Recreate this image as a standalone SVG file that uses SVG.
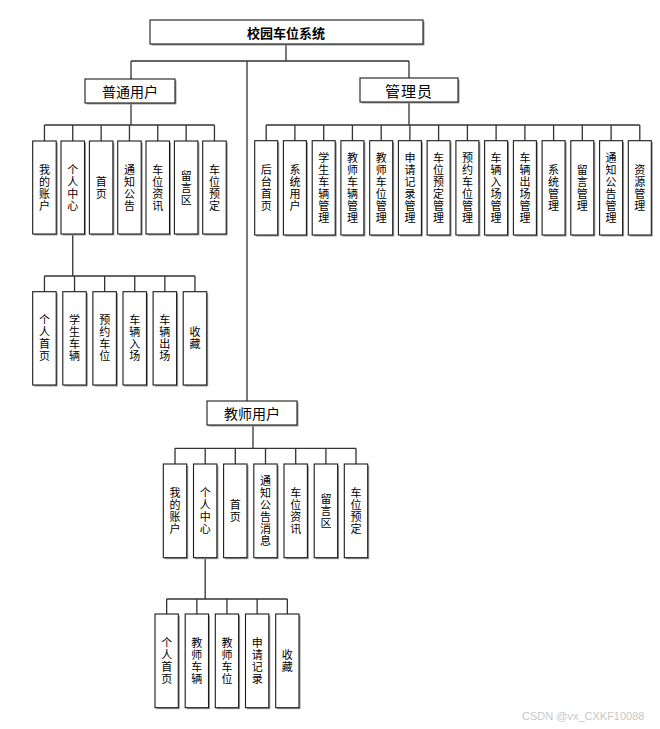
<svg xmlns="http://www.w3.org/2000/svg" width="660" height="729" viewBox="0 0 660 729">
<style>
.sh{fill:#9a9a9a}
.bx{fill:#fff;stroke:#1a1a1a;stroke-width:1.1}
.ln{fill:none;stroke:#333;stroke-width:1.3}
.t{font-family:"Noto Sans CJK SC","Microsoft YaHei",sans-serif;font-size:11px;fill:#000;text-anchor:middle;writing-mode:vertical-rl;letter-spacing:1px}
.h{font-family:"Noto Sans CJK SC",sans-serif;font-size:14px;fill:#000;text-anchor:middle;dominant-baseline:central}
.wm{font-family:"Liberation Sans",sans-serif;font-size:11px;fill:#c8c8c8}
</style>
<rect width="660" height="729" fill="#fff"/>
<g id="connectors">
<path class="ln" d="M286 44V61M131 61H409M131 61V79M409 61V78M247 61V401"/>
<path class="ln" d="M131 103V125M44.45 125H214.45M44.45 125V141M72.75 125V141M101.15 125V141M129.45 125V141M157.75 125V141M186.15 125V141M214.45 125V141"/>
<path class="ln" d="M72.75 234V276M44.45 276H194.95M44.45 276V291.7M74.55 276V291.7M104.65 276V291.7M134.75 276V291.7M164.85 276V291.7M194.95 276V291.7"/>
<path class="ln" d="M409 102V125M266.2 125H639.8M266.2 125V140.7M294.9 125V140.7M323.7 125V140.7M352.4 125V140.7M381.2 125V140.7M409.9 125V140.7M438.6 125V140.7M467.4 125V140.7M496.1 125V140.7M524.9 125V140.7M553.6 125V140.7M582.3 125V140.7M611.1 125V140.7M639.8 125V140.7"/>
<path class="ln" d="M253 425V448.3M175 448.3H356M175 448.3V464M205.2 448.3V464M235.3 448.3V464M265.5 448.3V464M295.7 448.3V464M325.9 448.3V464M356 448.3V464"/>
<path class="ln" d="M205.2 557.7V599M166.65 599H287.35M166.65 599V614M196.85 599V614M226.95 599V614M257.15 599V614M287.35 599V614"/>
</g>
<g id="root"><rect class="sh" x="151.5" y="21.5" width="273" height="24"/><rect class="bx" x="150" y="20" width="273" height="24"/><text class="h" x="286" y="32" style="font-size:13px;font-weight:bold">校园车位系统</text></g>
<g id="putong"><rect class="sh" x="86.5" y="80.5" width="90" height="24"/><rect class="bx" x="85" y="79" width="90" height="24"/><text class="h" x="130" y="91">普通用户</text></g>
<g id="guanli"><rect class="sh" x="361.5" y="79.5" width="98" height="24"/><rect class="bx" x="360" y="78" width="98" height="24"/><text class="h" x="409" y="90" style="font-size:15px;letter-spacing:1px">管理员</text></g>
<g id="jiaoshi"><rect class="sh" x="208.5" y="402.5" width="90" height="24"/><rect class="bx" x="207" y="401" width="90" height="24"/><text class="h" x="252" y="413">教师用户</text></g>

<g id="p1"><rect class="sh" x="34.2" y="142.5" width="23.5" height="93"/><rect class="bx" x="32.7" y="141" width="23.5" height="93"/><text class="t" x="44.45" y="188">我的账户</text></g>
<g id="p2"><rect class="sh" x="62.5" y="142.5" width="23.5" height="93"/><rect class="bx" x="61" y="141" width="23.5" height="93"/><text class="t" x="72.75" y="188">个人中心</text></g>
<g id="p3"><rect class="sh" x="90.9" y="142.5" width="23.5" height="93"/><rect class="bx" x="89.4" y="141" width="23.5" height="93"/><text class="t" x="101.15" y="188">首页</text></g>
<g id="p4"><rect class="sh" x="119.2" y="142.5" width="23.5" height="93"/><rect class="bx" x="117.7" y="141" width="23.5" height="93"/><text class="t" x="129.45" y="188">通知公告</text></g>
<g id="p5"><rect class="sh" x="147.5" y="142.5" width="23.5" height="93"/><rect class="bx" x="146" y="141" width="23.5" height="93"/><text class="t" x="157.75" y="188">车位资讯</text></g>
<g id="p6"><rect class="sh" x="175.9" y="142.5" width="23.5" height="93"/><rect class="bx" x="174.4" y="141" width="23.5" height="93"/><text class="t" x="186.15" y="188">留言区</text></g>
<g id="p7"><rect class="sh" x="204.2" y="142.5" width="23.5" height="93"/><rect class="bx" x="202.7" y="141" width="23.5" height="93"/><text class="t" x="214.45" y="188">车位预定</text></g>

<g id="ps1"><rect class="sh" x="34.2" y="293.2" width="23.5" height="93.3"/><rect class="bx" x="32.7" y="291.7" width="23.5" height="93.3"/><text class="t" x="44.45" y="338.8">个人首页</text></g>
<g id="ps2"><rect class="sh" x="64.3" y="293.2" width="23.5" height="93.3"/><rect class="bx" x="62.8" y="291.7" width="23.5" height="93.3"/><text class="t" x="74.55" y="338.8">学生车辆</text></g>
<g id="ps3"><rect class="sh" x="94.4" y="293.2" width="23.5" height="93.3"/><rect class="bx" x="92.9" y="291.7" width="23.5" height="93.3"/><text class="t" x="104.65" y="338.8">预约车位</text></g>
<g id="ps4"><rect class="sh" x="124.5" y="293.2" width="23.5" height="93.3"/><rect class="bx" x="123" y="291.7" width="23.5" height="93.3"/><text class="t" x="134.75" y="338.8">车辆入场</text></g>
<g id="ps5"><rect class="sh" x="154.6" y="293.2" width="23.5" height="93.3"/><rect class="bx" x="153.1" y="291.7" width="23.5" height="93.3"/><text class="t" x="164.85" y="338.8">车辆出场</text></g>
<g id="ps6"><rect class="sh" x="184.7" y="293.2" width="23.5" height="93.3"/><rect class="bx" x="183.2" y="291.7" width="23.5" height="93.3"/><text class="t" x="194.95" y="338.8">收藏</text></g>

<g id="a1"><rect class="sh" x="256.2" y="142.2" width="23" height="94.3"/><rect class="bx" x="254.7" y="140.7" width="23" height="94.3"/><text class="t" x="266.2" y="188.4">后台首页</text></g>
<g id="a2"><rect class="sh" x="284.9" y="142.2" width="23" height="94.3"/><rect class="bx" x="283.4" y="140.7" width="23" height="94.3"/><text class="t" x="294.9" y="188.4">系统用户</text></g>
<g id="a3"><rect class="sh" x="313.7" y="142.2" width="23" height="94.3"/><rect class="bx" x="312.2" y="140.7" width="23" height="94.3"/><text class="t" x="323.7" y="188.4">学生车辆管理</text></g>
<g id="a4"><rect class="sh" x="342.4" y="142.2" width="23" height="94.3"/><rect class="bx" x="340.9" y="140.7" width="23" height="94.3"/><text class="t" x="352.4" y="188.4">教师车辆管理</text></g>
<g id="a5"><rect class="sh" x="371.2" y="142.2" width="23" height="94.3"/><rect class="bx" x="369.7" y="140.7" width="23" height="94.3"/><text class="t" x="381.2" y="188.4">教师车位管理</text></g>
<g id="a6"><rect class="sh" x="399.9" y="142.2" width="23" height="94.3"/><rect class="bx" x="398.4" y="140.7" width="23" height="94.3"/><text class="t" x="409.9" y="188.4">申请记录管理</text></g>
<g id="a7"><rect class="sh" x="428.6" y="142.2" width="23" height="94.3"/><rect class="bx" x="427.1" y="140.7" width="23" height="94.3"/><text class="t" x="438.6" y="188.4">车位预定管理</text></g>
<g id="a8"><rect class="sh" x="457.4" y="142.2" width="23" height="94.3"/><rect class="bx" x="455.9" y="140.7" width="23" height="94.3"/><text class="t" x="467.4" y="188.4">预约车位管理</text></g>
<g id="a9"><rect class="sh" x="486.1" y="142.2" width="23" height="94.3"/><rect class="bx" x="484.6" y="140.7" width="23" height="94.3"/><text class="t" x="496.1" y="188.4">车辆入场管理</text></g>
<g id="a10"><rect class="sh" x="514.9" y="142.2" width="23" height="94.3"/><rect class="bx" x="513.4" y="140.7" width="23" height="94.3"/><text class="t" x="524.9" y="188.4">车辆出场管理</text></g>
<g id="a11"><rect class="sh" x="543.6" y="142.2" width="23" height="94.3"/><rect class="bx" x="542.1" y="140.7" width="23" height="94.3"/><text class="t" x="553.6" y="188.4">系统管理</text></g>
<g id="a12"><rect class="sh" x="572.3" y="142.2" width="23" height="94.3"/><rect class="bx" x="570.8" y="140.7" width="23" height="94.3"/><text class="t" x="582.3" y="188.4">留言管理</text></g>
<g id="a13"><rect class="sh" x="601.1" y="142.2" width="23" height="94.3"/><rect class="bx" x="599.6" y="140.7" width="23" height="94.3"/><text class="t" x="611.1" y="188.4">通知公告管理</text></g>
<g id="a14"><rect class="sh" x="629.8" y="142.2" width="23" height="94.3"/><rect class="bx" x="628.3" y="140.7" width="23" height="94.3"/><text class="t" x="639.8" y="188.4">资源管理</text></g>

<g id="t1"><rect class="sh" x="164.8" y="465.5" width="23.4" height="93.7"/><rect class="bx" x="163.3" y="464" width="23.4" height="93.7"/><text class="t" x="175" y="511.3">我的账户</text></g>
<g id="t2"><rect class="sh" x="195" y="465.5" width="23.4" height="93.7"/><rect class="bx" x="193.5" y="464" width="23.4" height="93.7"/><text class="t" x="205.2" y="511.3">个人中心</text></g>
<g id="t3"><rect class="sh" x="225.1" y="465.5" width="23.4" height="93.7"/><rect class="bx" x="223.6" y="464" width="23.4" height="93.7"/><text class="t" x="235.3" y="511.3">首页</text></g>
<g id="t4"><rect class="sh" x="255.3" y="465.5" width="23.4" height="93.7"/><rect class="bx" x="253.8" y="464" width="23.4" height="93.7"/><text class="t" x="265.5" y="511.3">通知公告消息</text></g>
<g id="t5"><rect class="sh" x="285.5" y="465.5" width="23.4" height="93.7"/><rect class="bx" x="284" y="464" width="23.4" height="93.7"/><text class="t" x="295.7" y="511.3">车位资讯</text></g>
<g id="t6"><rect class="sh" x="315.7" y="465.5" width="23.4" height="93.7"/><rect class="bx" x="314.2" y="464" width="23.4" height="93.7"/><text class="t" x="325.9" y="511.3">留言区</text></g>
<g id="t7"><rect class="sh" x="345.8" y="465.5" width="23.4" height="93.7"/><rect class="bx" x="344.3" y="464" width="23.4" height="93.7"/><text class="t" x="356" y="511.3">车位预定</text></g>

<g id="ts1"><rect class="sh" x="156.5" y="615.5" width="23.3" height="93.7"/><rect class="bx" x="155" y="614" width="23.3" height="93.7"/><text class="t" x="166.65" y="661.3">个人首页</text></g>
<g id="ts2"><rect class="sh" x="186.7" y="615.5" width="23.3" height="93.7"/><rect class="bx" x="185.2" y="614" width="23.3" height="93.7"/><text class="t" x="196.85" y="661.3">教师车辆</text></g>
<g id="ts3"><rect class="sh" x="216.8" y="615.5" width="23.3" height="93.7"/><rect class="bx" x="215.3" y="614" width="23.3" height="93.7"/><text class="t" x="226.95" y="661.3">教师车位</text></g>
<g id="ts4"><rect class="sh" x="247" y="615.5" width="23.3" height="93.7"/><rect class="bx" x="245.5" y="614" width="23.3" height="93.7"/><text class="t" x="257.15" y="661.3">申请记录</text></g>
<g id="ts5"><rect class="sh" x="277.2" y="615.5" width="23.3" height="93.7"/><rect class="bx" x="275.7" y="614" width="23.3" height="93.7"/><text class="t" x="287.35" y="661.3">收藏</text></g>

<text class="wm" x="522" y="720">CSDN @vx_CXKF10088</text>
</svg>
